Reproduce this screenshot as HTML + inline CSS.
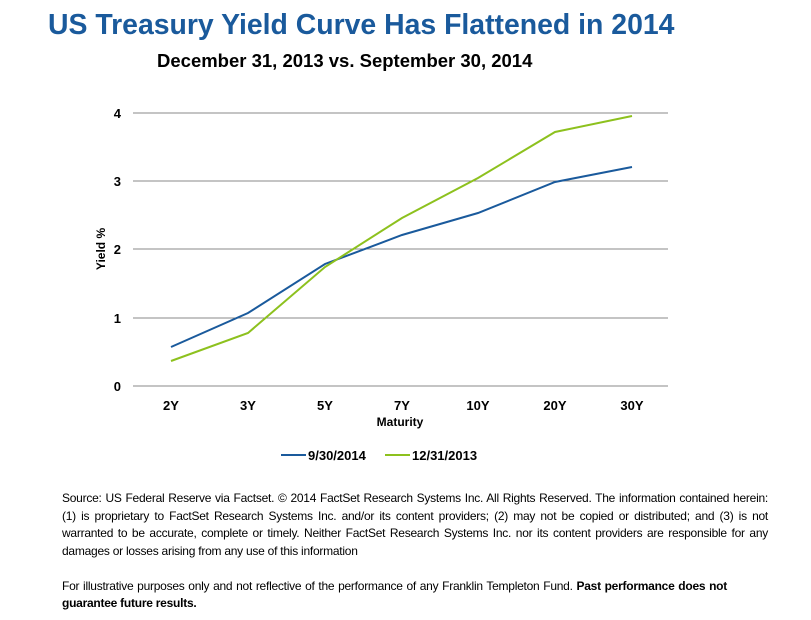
<!DOCTYPE html>
<html><head><style>
body{margin:0;background:#fff;width:811px;height:620px;overflow:hidden;font-family:"Liberation Sans",Arial,sans-serif;}
.t{position:absolute;left:48px;top:9px;font-size:28.4px;font-weight:bold;color:#1a5a9c;white-space:nowrap;}
.s{position:absolute;left:157px;top:50px;font-size:18.5px;font-weight:bold;color:#000;white-space:nowrap;}
.src{position:absolute;left:62px;top:490px;width:706px;font-size:12px;line-height:17.5px;color:#000;letter-spacing:-0.25px;}
.j{text-align:justify;text-align-last:justify;white-space:nowrap;}
.j2{text-align:justify;text-align-last:justify;white-space:nowrap;width:665px;}
</style></head><body>
<div class="t">US Treasury Yield Curve Has Flattened in 2014</div>
<div class="s">December 31, 2013 vs. September 30, 2014</div>
<svg width="811" height="620" style="position:absolute;left:0;top:0" font-family="Liberation Sans, Arial, sans-serif">
<g stroke="#888" stroke-width="1">
<line x1="133" y1="113" x2="668" y2="113"/><line x1="133" y1="181" x2="668" y2="181"/>
<line x1="133" y1="249" x2="668" y2="249"/><line x1="133" y1="318" x2="668" y2="318"/>
<line x1="133" y1="386" x2="668" y2="386"/></g>
<g font-size="13" font-weight="bold" text-anchor="end">
<text x="121" y="118">4</text><text x="121" y="186">3</text><text x="121" y="254">2</text><text x="121" y="323">1</text><text x="121" y="391">0</text></g>
<g font-size="13" font-weight="bold" text-anchor="middle">
<text x="171" y="410">2Y</text><text x="248" y="410">3Y</text><text x="325" y="410">5Y</text><text x="402" y="410">7Y</text><text x="478" y="410">10Y</text><text x="555" y="410">20Y</text><text x="632" y="410">30Y</text></g>
<text x="400" y="426" font-size="12" font-weight="bold" text-anchor="middle">Maturity</text>
<text transform="translate(105,249) rotate(-90)" font-size="12" font-weight="bold" text-anchor="middle">Yield %</text>
<polyline fill="none" stroke="#1a5a9c" stroke-width="2" points="171,347 248,313 325,264 402,235 478,213 555,182 632,167"/>
<polyline fill="none" stroke="#8dc11e" stroke-width="2" points="171,361 248,333 325,267 402,218 478,178 555,132 632,116"/>
<line x1="281" y1="455" x2="306" y2="455" stroke="#1a5a9c" stroke-width="2"/>
<text x="308" y="460" font-size="13" font-weight="bold">9/30/2014</text>
<line x1="385" y1="455" x2="410" y2="455" stroke="#8dc11e" stroke-width="2"/>
<text x="412" y="460" font-size="13" font-weight="bold">12/31/2013</text>
</svg>
<div class="src">
<div class="j">Source: US Federal Reserve via Factset. © 2014 FactSet Research Systems Inc. All Rights Reserved. The information contained herein:</div>
<div class="j">(1) is proprietary to FactSet Research Systems Inc. and/or its content providers; (2) may not be copied or distributed; and (3) is not</div>
<div class="j">warranted to be accurate, complete or timely. Neither FactSet Research Systems Inc. nor its content providers are responsible for any</div>
<div>damages or losses arising from any use of this information</div>
<div>&nbsp;</div>
<div class="j2">For illustrative purposes only and not reflective of the performance of any Franklin Templeton Fund. <b>Past performance does not</b></div>
<div><b>guarantee future results.</b></div>
</div>
</body></html>
